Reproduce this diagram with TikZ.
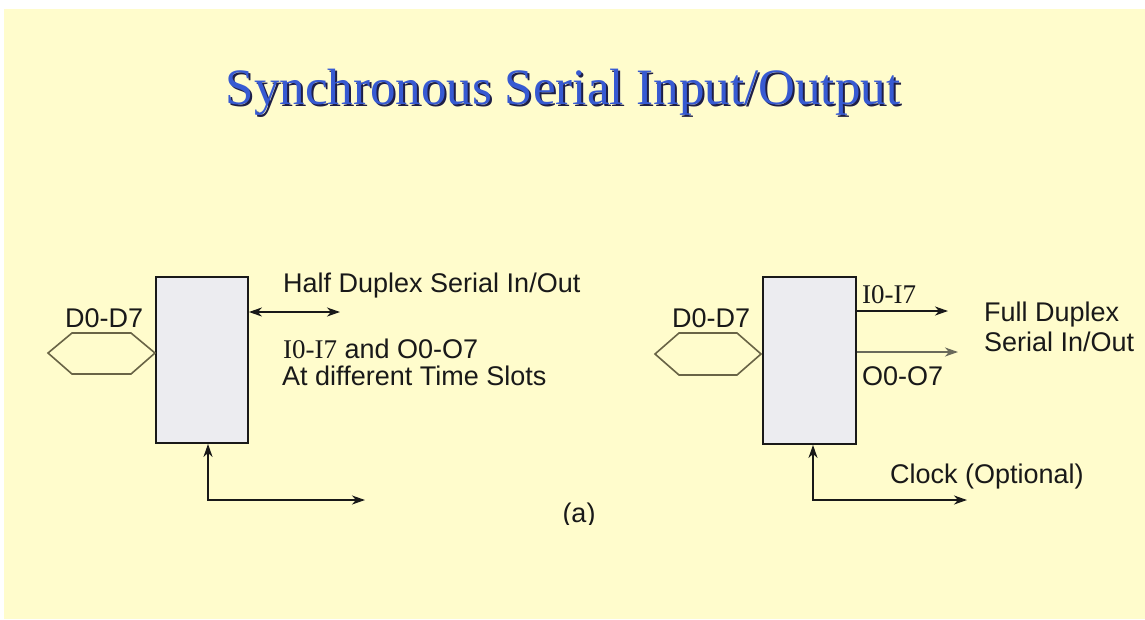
\documentclass[tikz,border=0pt]{standalone}
\usepackage{fontspec}
\setmainfont{Liberation Sans}
\newfontfamily\tnr{Liberation Serif}
\usetikzlibrary{arrows.meta}
\definecolor{bg}{RGB}{255,252,204}
\definecolor{boxfill}{RGB}{236,236,240}
\definecolor{hexcol}{RGB}{105,100,70}
\definecolor{titleblue}{RGB}{55,90,210}
\definecolor{shadowcol}{RGB}{30,30,70}
\definecolor{grayline}{RGB}{105,105,90}
\definecolor{inkcol}{RGB}{25,25,25}
\begin{document}
\begin{tikzpicture}[x=1pt,y=-1pt,
  lbl/.style={anchor=base west, inner sep=0pt, text=inkcol, font=\fontsize{27}{32}\selectfont},
  serlbl/.style={lbl, font=\tnr\fontsize{27}{32}\selectfont},
  regbox/.style={draw=inkcol, line width=1.8pt, fill=boxfill, minimum width=92pt, minimum height=166pt, inner sep=0pt},
  bus/.style={draw=hexcol, line width=1.6pt},
  conn/.style={draw=inkcol, line width=1.8pt, -{Stealth[length=13pt,width=9pt,inset=4pt]}},
  dconn/.style={draw=inkcol, line width=1.8pt, {Stealth[length=13pt,width=9pt,inset=4pt]}-{Stealth[length=13pt,width=9pt,inset=4pt]}},
  titlefont/.style={anchor=base, inner sep=0pt, font=\tnr\fontsize{51}{60}\selectfont}
]
\useasboundingbox (0,0) rectangle (1145,619);
\fill[white] (0,0) rectangle (1145,619);
\fill[bg] (4,9) rectangle (1145,619);

% title
\node[titlefont, text=shadowcol] (tsh) at (565,106) {Synchronous Serial Input/Output};
\node[titlefont, text=titleblue] (title) at (563,104) {Synchronous Serial Input/Output};

% left panel
\node[regbox] (L) at (202,360) {};
\draw[bus] (48,353) -- (72,333) -- (131,333) -- (155,353) -- (131,374) -- (72,374) -- cycle;
\node[lbl] (dl) at (65,327) {D0-D7};
\coordinate (hdend) at (340,312);
\draw[dconn] (L.east |- hdend) -- (hdend);
\node[lbl] (hd) at (283,292) {Half Duplex Serial In/Out};
\node[lbl] (io) at (283,358) {{\tnr I0-I7} and O0-O7};
\node[lbl] (ts) at (282,385) {At different Time Slots};
\coordinate (lck) at (365,500);
\draw[dconn] ([xshift=6pt]L.south) |- (lck);
\begin{scope}
  \clip (540,490) rectangle (620,524);
  \node[lbl, anchor=base] (cap) at (579,522) {(a)};
\end{scope}

% right panel
\node[regbox, minimum width=93pt, minimum height=167pt] (R) at (809.5,360.5) {};
\draw[bus] (655,354) -- (679,333) -- (737,333) -- (761,354) -- (737,375) -- (679,375) -- cycle;
\node[lbl] (dr) at (672,327) {D0-D7};
\coordinate (iend) at (948,311);
\coordinate (oend) at (958,352);
\draw[conn] (R.east |- iend) -- (iend);
\draw[conn, draw=grayline] (R.east |- oend) -- (oend);
\node[serlbl] (ii) at (862,303) {I0-I7};
\node[lbl] (oo) at (862,385) {O0-O7};
\node[lbl] (fd) at (984,321) {Full Duplex};
\node[lbl] (si) at (984,351) {Serial In/Out};
\coordinate (rck) at (967,500);
\draw[dconn] ([xshift=3.5pt]R.south) |- (rck);
\node[lbl] (ck) at (890,483) {Clock (Optional)};
\end{tikzpicture}
\end{document}
